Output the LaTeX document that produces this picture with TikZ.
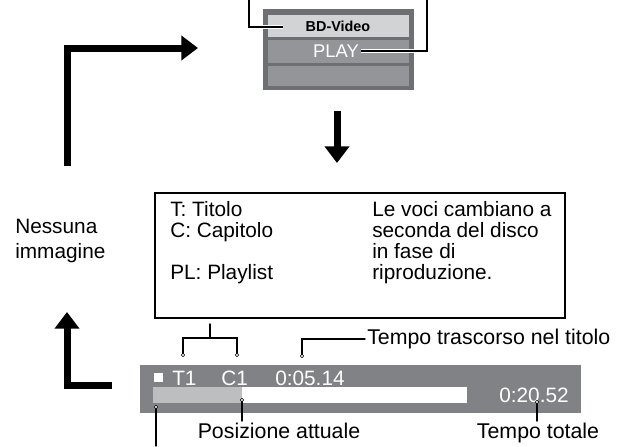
\documentclass[tikz,border=0pt]{standalone}
\usepackage{fontspec}
\setmainfont{Liberation Sans}
\usepackage{tikz}
\usetikzlibrary{arrows.meta,calc,positioning}
\definecolor{menuframe}{RGB}{110,111,114}
\definecolor{menurow}{RGB}{147,149,152}
\definecolor{menulight}{RGB}{209,211,212}
\definecolor{bargray}{RGB}{128,130,133}
\definecolor{trackgray}{RGB}{188,190,192}
\newcommand{\labelsize}{\fontsize{15.6}{15.75}\selectfont}
\newcommand{\calloutsize}{\fontsize{16}{17}\selectfont}
\newcommand{\nosize}{\fontsize{15.6}{19}\selectfont}
\begin{document}
\begin{tikzpicture}[x=0.75pt, y=-0.75pt, line join=miter,
  bigarrow/.style={line width=5.25pt, -{Triangle[width=18pt,length=12.5pt]}},
  leaderline/.style={line width=1.1pt, line cap=round},
  menulead/.style={line width=1.1pt, preaction={draw=white, line width=3pt}},
  leaderdot/.style={circle, fill=white, draw=black, line width=.4pt,
    inner sep=0pt, minimum size=2.6pt},
  lbl/.style={inner sep=0pt, font=\labelsize},
  callout/.style={inner sep=0pt, font=\calloutsize},
  bartext/.style={inner sep=0pt, text=white, font=\labelsize, anchor=west}]
  \useasboundingbox (0,0) rectangle (617,446);

  % Menu window with its two highlighted lines.
  \fill[menuframe] (263,9) rectangle (414,90);
  \fill[menulight] (268,15) rectangle (409,37);
  \fill[menurow] (268,40) rectangle (409,63);
  \fill[menurow] (268,66) rectangle (409,86);
  \node[inner sep=0pt, font=\fontsize{10.8}{12}\selectfont\bfseries]
    (bdvideo) at (338,26) {BD-Video};
  \node[inner sep=0pt, text=white, font=\fontsize{13.8}{15}\selectfont]
    (play) at (336,51) {PLAY};
  \coordinate (bdtop) at (249,0);
  \coordinate (bdend) at (283,27);
  \coordinate (playtop) at (427,0);
  \draw[menulead] (bdtop) |- (bdend);
  \draw[menulead] (playtop) |- ($(play.east)+(2,0)$);

  % Flow arrows.
  \coordinate (loopbottom) at (67,166);
  \coordinate (menuentry) at (198,48);
  \coordinate (downstart) at (337,111);
  \coordinate (downend) at (337,163);
  \coordinate (barleft) at (112,385);
  \coordinate (returntip) at (67,312);
  \draw[bigarrow] (loopbottom) |- (menuentry);
  \draw[bigarrow] (downstart) -- (downend);
  \draw[bigarrow] (barleft) -| (returntip);

  \node[lbl, font=\nosize, anchor=west, align=left] (noimage) at (15,241)
    {Nessuna\\immagine};

  % Legend box.
  \node[draw, line width=1.5pt, inner sep=0pt, minimum width=307.5pt,
    minimum height=93.75pt] (legend) at (360,255.5) {};
  \node[lbl, anchor=north west, align=left] (keys) at (170,201)
    {T: Titolo\\C: Capitolo\\[15.75pt]PL: Playlist};
  \node[lbl, anchor=north west, align=left] (note) at (372,201)
    {Le voci cambiano a\\seconda del disco\\in fase di\\riproduzione.};

  % Status bar.
  \fill[bargray] (140,365) rectangle (581,413);
  \fill[trackgray] (153,387) rectangle (242,403);
  \fill[white] (242,387) rectangle (467,403);
  \node[fill=white, inner sep=0pt, minimum size=6.75pt] (stopmark)
    at (158.5,377.5) {};
  \node[bartext] (title) at (172,378) {T1};
  \node[bartext] (chapter) at (221,378) {C1};
  \node[bartext] (elapsed) at (275,378) {0:05.14};
  \node[bartext] (total) at (499,395) {0:20.52};

  % Leaders.
  \coordinate (brtop) at (210,324);
  \coordinate (brmid) at (210,338);
  \coordinate (titletick) at (183,355);
  \coordinate (chaptertick) at (237,355);
  \draw[leaderline] (brtop) -- (brmid);
  \draw[leaderline] (titletick) |- (brmid) -| (chaptertick);

  \node[callout, anchor=west] (elapsedlabel) at (367,339)
    {Tempo trascorso nel titolo};
  \coordinate (elapsedtick) at (302,356);
  \draw[leaderline] (elapsedtick) |- ($(elapsedlabel.west)+(-2,0)$);

  \node[callout, anchor=north] (currentlabel) at (279,423) {Posizione attuale};
  \coordinate (currenttick) at (242,400);
  \draw[leaderline, shorten >=1.5pt] (currenttick) -- (currenttick |- currentlabel.north);

  \node[callout, anchor=north] (totallabel) at (538,423) {Tempo totale};
  \coordinate (totaltick) at (537,402);
  \draw[leaderline, shorten >=1.5pt] (totaltick) -- (totaltick |- totallabel.north);

  \coordinate (starttick) at (156,407);
  \coordinate (startend) at (156,446);
  \draw[leaderline] (starttick) -- (startend);

  \foreach \tick in {titletick,chaptertick,elapsedtick,currenttick,totaltick,starttick}
    \node[leaderdot] at (\tick) {};
\end{tikzpicture}
\end{document}
